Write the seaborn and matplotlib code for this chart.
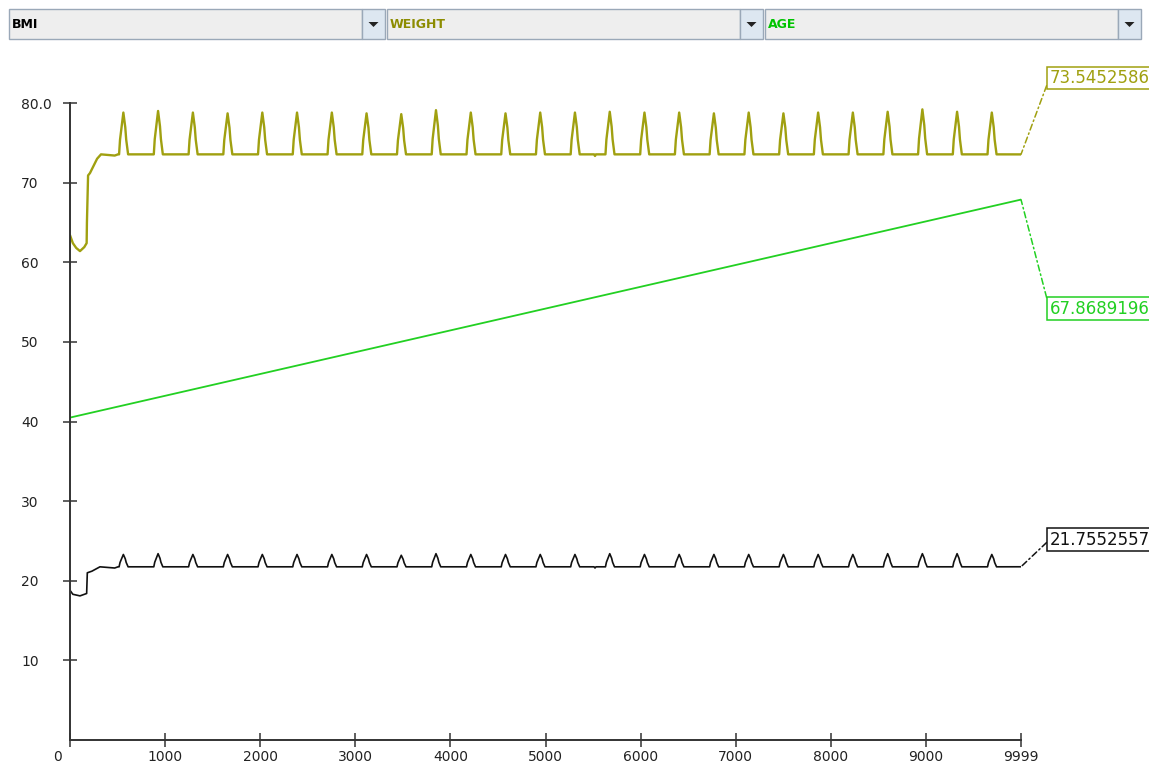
import matplotlib
matplotlib.use("Agg")
import numpy as np
import pandas as pd
import seaborn as sns
import matplotlib.pyplot as plt
from matplotlib.patches import Rectangle, Polygon
from matplotlib.transforms import ScaledTranslation

# ---- data (x = sample / day index) ----
last_day = 9999

age_days = [0, 9999]
age_vals = [40.49, 67.8689196]

weight_lead_days = [0, 30, 65, 105, 150, 175, 178, 190, 210, 252, 285, 326, 470, 505]
weight_lead_vals = [63.4, 62.4, 61.8, 61.4, 61.9, 62.4, 65.0, 70.9, 71.2, 72.2, 73.0, 73.55, 73.4, 73.55]
bmi_lead_days = [0, 30, 105, 150, 175, 182, 230, 315, 470, 505]
bmi_lead_vals = [18.8, 18.3, 18.1, 18.3, 18.4, 21.0, 21.2, 21.75, 21.6, 21.75]

weight_base = 73.55
bmi_base = 21.75
weight_last = 73.5452586
bmi_last = 21.7552557

peak_days = [561, 926, 1292, 1657, 2022, 2387, 2753, 3118, 3483, 3848, 4214, 4579, 4944,
             5309, 5675, 6040, 6405, 6770, 7136, 7501, 7866, 8231, 8597, 8962, 9327, 9692]
weight_peaks = [78.8, 79.0, 78.8, 78.7, 78.8, 78.8, 78.8, 78.7, 78.6, 79.1, 78.8, 78.7, 78.8,
                78.8, 78.9, 78.8, 78.8, 78.7, 78.8, 78.7, 78.8, 78.8, 78.9, 79.2, 78.9, 78.8]
bmi_peaks = [23.3, 23.4, 23.3, 23.3, 23.3, 23.3, 23.3, 23.3, 23.2, 23.4, 23.3, 23.3, 23.3,
             23.3, 23.4, 23.3, 23.3, 23.3, 23.3, 23.3, 23.3, 23.3, 23.4, 23.4, 23.4, 23.3]
# spike outline relative to each peak (days, share of the peak height)
spike_offsets = [-45, -35, 0, 20, 30, 50]
spike_shape = [0.0, 0.35, 1.0, 0.65, 0.35, 0.0]
dip_days = [5520]
weight_dips = [73.35]
bmi_dips = [21.6]

series_colors = {"WEIGHT": "#a0a010", "AGE": "#22d022", "BMI": "#111111"}


def build(lead_d, lead_v, base, peaks, dips, last):
    d = list(lead_d)
    v = list(lead_v)
    for pd_, pk in zip(peak_days, peaks):
        for off, s in zip(spike_offsets, spike_shape):
            d.append(pd_ + off)
            v.append(base + s * (pk - base))
    for dd, dv in zip(dip_days, dips):
        d += [dd - 10, dd, dd + 10]
        v += [base, dv, base]
    d.append(last_day)
    v.append(last)
    out = pd.DataFrame({"day": d, "value": v}).sort_values("day")
    return out


w = build(weight_lead_days, weight_lead_vals, weight_base, weight_peaks, weight_dips, weight_last)
w["series"] = "WEIGHT"
b = build(bmi_lead_days, bmi_lead_vals, bmi_base, bmi_peaks, bmi_dips, bmi_last)
b["series"] = "BMI"
a = pd.DataFrame({"day": age_days, "value": age_vals, "series": "AGE"})

sns.set_style("white")
plt.rcParams["font.family"] = ["DejaVu Sans"]

W, H = 1149, 771
fig = plt.figure(figsize=(W / 100, H / 100), dpi=100)
ax = fig.add_axes([70 / W, 1 - 740 / H, (1021 - 70) / W, (740 - 103) / H])

for df, lw in ((a, 1.3), (w, 1.7), (b, 1.2)):
    sns.lineplot(data=df, x="day", y="value", color=series_colors[df["series"].iloc[0]],
                 lw=lw, estimator=None, sort=False, ax=ax, legend=False)

ax.set_xlim(0, last_day)
ax.set_ylim(0, 80)
ax.set_xlabel("")
ax.set_ylabel("")

xt = [0, 1000, 2000, 3000, 4000, 5000, 6000, 7000, 8000, 9000, 9999]
ax.set_xticks(xt, [str(t) for t in xt])
yt = [10, 20, 30, 40, 50, 60, 70, 80]
ax.set_yticks(yt, [str(t) for t in yt[:-1]] + ["80.0"])
ax.tick_params(axis="both", direction="inout", length=10, width=1.1, color="#333333",
               labelsize=10, labelcolor="#222222", bottom=True, left=True)
ax.tick_params(axis="y", pad=30.3)
ax.tick_params(axis="x", pad=2.5)
for lab in ax.get_yticklabels():
    lab.set_horizontalalignment("left")
first = ax.get_xticklabels()[0]
first.set_transform(first.get_transform() + ScaledTranslation(-0.13, 0, fig.dpi_scale_trans))

sns.despine(ax=ax)
for s in ("left", "bottom"):
    ax.spines[s].set_color("#333333")
    ax.spines[s].set_linewidth(1.4)

# value boxes at the right end of each line
ends = [("WEIGHT", weight_last, 76.5, "73.5452586"),
        ("AGE", age_vals[-1], -109, "67.8689196"),
        ("BMI", bmi_last, 27, "21.7552557")]
for name, yv, dy, txt in ends:
    c = series_colors[name]
    ann = ax.annotate(txt, xy=(last_day, yv), xytext=(28.5, dy), textcoords="offset pixels",
                      ha="left", va="center", fontsize=12, color=c,
                      bbox=dict(boxstyle="square,pad=0.14", fc="white", ec=c, lw=1.1),
                      arrowprops=dict(arrowstyle="-", color=c, lw=1.1, linestyle=(0, (4, 2, 1, 2)),
                                      shrinkA=0, shrinkB=0, relpos=(0, 0.5)),
                      annotation_clip=False)
    ann.arrow_patch.set_clip_on(False)


# header with three selector boxes
def fx(px):
    return px / W


def fy(py):
    return 1 - py / H


headers = [("BMI", 9, 362, "#000000"), ("WEIGHT", 387, 740, "#8c8c00"), ("AGE", 765, 1118, "#00c400")]
for label, x0, x1, tc in headers:
    fig.patches.append(Rectangle((fx(x0), fy(39)), fx(x1) - fx(x0), fy(9) - fy(39),
                                 transform=fig.transFigure, fc="#eeeeee", ec="#9aa8b8", lw=1.0))
    fig.patches.append(Rectangle((fx(x1), fy(39)), fx(x1 + 23) - fx(x1), fy(9) - fy(39),
                                 transform=fig.transFigure, fc="#dde7f1", ec="#9aa8b8", lw=1.0))
    cx = x1 + 11.5
    fig.patches.append(Polygon([(fx(cx - 5), fy(22)), (fx(cx + 5), fy(22)), (fx(cx), fy(27))],
                               closed=True, transform=fig.transFigure, fc="#222222", ec="none"))
    fig.text(fx(x0 + 3), fy(24.5), label, color=tc, fontsize=9, fontweight="bold",
             ha="left", va="center", family=["DejaVu Sans"])

fig.savefig("out.png", dpi=100, facecolor="white")
